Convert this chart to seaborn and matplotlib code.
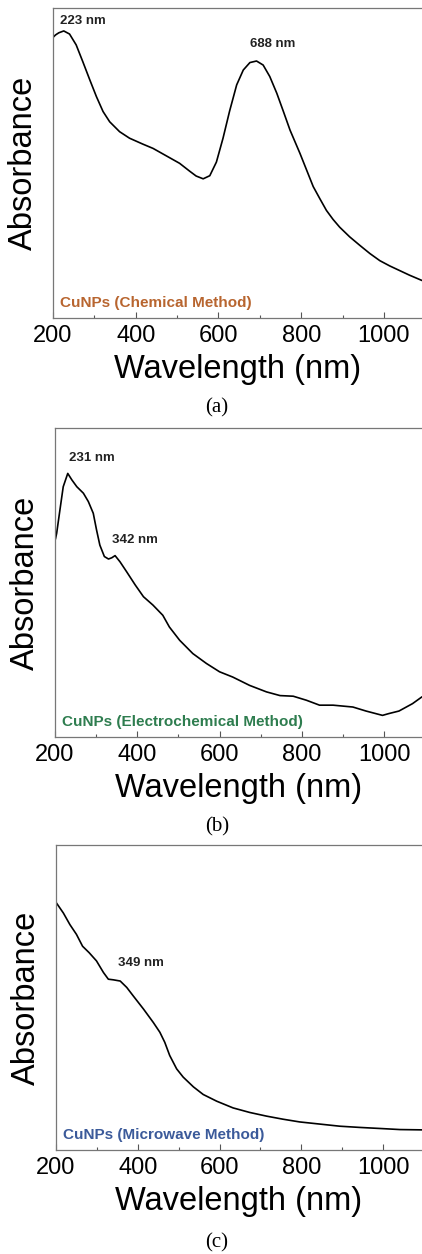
import numpy as np
import pandas as pd
import seaborn as sns
import matplotlib
matplotlib.use("Agg")
import matplotlib.pyplot as plt
from matplotlib.ticker import MultipleLocator

sns.set_theme(style="white")
plt.rcParams['font.family'] = ['Liberation Sans', 'DejaVu Sans']
plt.rcParams['text.color'] = 'black'
plt.rcParams['axes.labelcolor'] = 'black'
plt.rcParams['xtick.color'] = 'black'

# ---------------- data (absorbance in arbitrary units) ----------------
wl_a = [200, 206, 214, 226, 240, 256, 272, 289, 305, 321, 337, 361, 385, 417,
        442, 474, 506, 530, 546, 563, 579, 595, 611, 627, 644, 660, 676, 692,
        708, 724, 741, 757, 773, 797, 829, 845, 861, 877, 893, 917, 942, 966,
        990, 1014, 1038, 1062, 1092]
abs_a = [0.905, 0.913, 0.920, 0.926, 0.916, 0.881, 0.827, 0.768, 0.714, 0.666,
         0.633, 0.601, 0.580, 0.561, 0.547, 0.523, 0.499, 0.474, 0.458, 0.449,
         0.459, 0.503, 0.580, 0.668, 0.752, 0.800, 0.824, 0.829, 0.816, 0.779,
         0.725, 0.666, 0.606, 0.531, 0.424, 0.385, 0.347, 0.318, 0.293, 0.262,
         0.234, 0.208, 0.185, 0.168, 0.153, 0.138, 0.121]

wl_b = [201, 204, 212, 220, 231, 241, 253, 269, 281, 293, 301, 309, 320, 330,
        338, 346, 358, 374, 395, 415, 438, 462, 478, 503, 535, 568, 600, 632,
        673, 714, 747, 779, 811, 843, 876, 924, 956, 996, 1012, 1036, 1069,
        1092]
abs_b = [0.640, 0.659, 0.735, 0.810, 0.853, 0.832, 0.810, 0.789, 0.762, 0.724,
         0.670, 0.621, 0.584, 0.576, 0.580, 0.587, 0.567, 0.535, 0.492, 0.454,
         0.427, 0.394, 0.356, 0.313, 0.270, 0.238, 0.211, 0.194, 0.167, 0.146,
         0.134, 0.132, 0.119, 0.103, 0.103, 0.097, 0.084, 0.070, 0.076, 0.084,
         0.108, 0.130]

wl_c = [200, 218, 234, 250, 265, 281, 299, 316, 328, 340, 357, 373, 389, 414,
        438, 454, 466, 478, 495, 511, 536, 560, 593, 633, 674, 715, 755, 796,
        845, 894, 943, 1000, 1041, 1095]
abs_c = [0.812, 0.777, 0.739, 0.707, 0.668, 0.647, 0.620, 0.582, 0.560, 0.558,
         0.554, 0.533, 0.505, 0.462, 0.418, 0.386, 0.353, 0.310, 0.266, 0.239,
         0.207, 0.182, 0.160, 0.138, 0.123, 0.111, 0.101, 0.092, 0.085, 0.078,
         0.074, 0.070, 0.067, 0.066]

peaks_a = [("223 nm", 216, 0.959), ("688 nm", 677, 0.883)]
peaks_b = [("231 nm", 235, 0.904), ("342 nm", 338, 0.637)]
peaks_c = [("349 nm", 352, 0.614)]

labels = ["CuNPs (Chemical Method)", "CuNPs (Electrochemical Method)",
          "CuNPs (Microwave Method)"]
label_colors = ["#B8652F", "#2E7D4F", "#3B5A9A"]
captions = ["(a)", "(b)", "(c)"]
xticks = [200, 400, 600, 800, 1000]

# ---------------- figure ----------------
W, H = 422, 1254
fig = plt.figure(figsize=(W / 100, H / 100), dpi=100)

panels = [
    (wl_a, abs_a, peaks_a, [53, 8, 318], 1092, 408),
    (wl_b, abs_b, peaks_b, [55, 428, 737], 1092, 827),
    (wl_c, abs_c, peaks_c, [56, 845, 1150], 1095, 1243),
]

for i, (wl, ab, peaks, (lx, ty, by), xmax, capy) in enumerate(panels):
    ax = fig.add_axes([lx / W, (H - by) / H, (W - lx) / W, (by - ty) / H])
    df = pd.DataFrame({"wl": wl, "abs": ab})
    sns.lineplot(data=df, x="wl", y="abs", ax=ax, color="black", lw=1.2,
                 sort=False)
    ax.set_xlim(200, xmax)
    ax.set_ylim(0, 1)
    ax.set_yticks([])
    ax.set_xticks(xticks)
    ax.xaxis.set_minor_locator(MultipleLocator(100))
    ax.tick_params(axis="x", which="major", direction="in", length=4,
                   width=0.8, color="#555555", labelsize=17, pad=5,
                   labelcolor="black")
    ax.tick_params(axis="x", which="minor", direction="in", length=2,
                   width=0.8, color="#555555")
    ax.tick_params(axis="x", which="both", bottom=True, top=False)
    for s in ["left", "bottom", "top"]:
        ax.spines[s].set_color("#777777")
        ax.spines[s].set_linewidth(0.9)
    ax.spines["right"].set_visible(False)
    ax.set_xlabel("Wavelength (nm)", fontsize=23.5, labelpad=5)
    ax.set_ylabel("Absorbance", fontsize=23.5, labelpad=10)
    for txt, x, y in peaks:
        ax.text(x, y, txt, fontsize=9.5, fontweight="bold", color="#222222",
                ha="left", va="center")
    ax.text(0.02, 0.048, labels[i], transform=ax.transAxes, fontsize=11,
            fontweight="bold", color=label_colors[i], ha="left", va="center")
    fig.text(217 / W, (H - capy) / H, captions[i],
             fontsize=15, family="Liberation Serif", ha="center",
             va="center")

fig.savefig("out.png", dpi=100)
